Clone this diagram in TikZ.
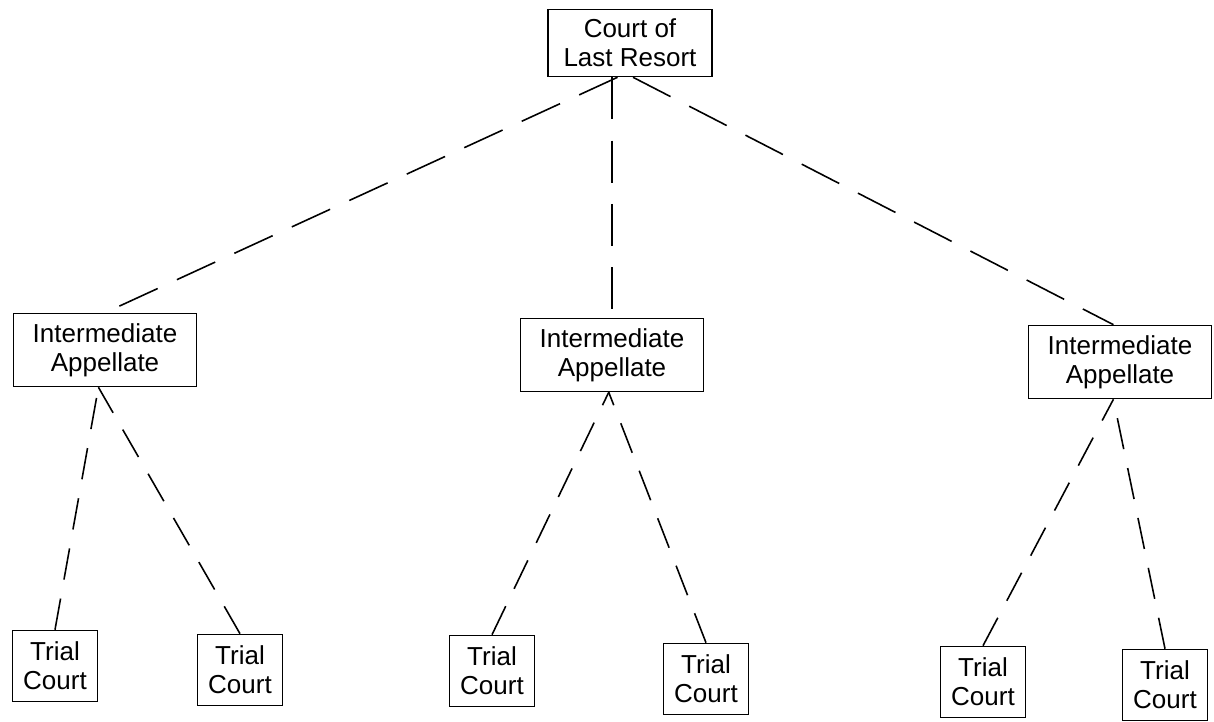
\documentclass[tikz,border=0pt]{standalone}
\usepackage{fontspec}
\setmainfont{Liberation Sans}
\usetikzlibrary{positioning,arrows.meta}

\begin{document}
\begin{tikzpicture}[x=0.02cm,y=-0.02cm,
    font=\fontsize{14.8}{16.5}\selectfont,
    court/.style={draw,line width=0.9pt,align=center,inner sep=1pt},
    toptier/.style={court,minimum width=3.28cm,minimum height=1.34cm},
    midtier/.style={court,minimum width=3.66cm,minimum height=1.46cm},
    trial/.style={court,minimum width=1.7cm,minimum height=1.42cm},
    upper/.style={line width=0.9pt,dash pattern=on 24pt off 12pt},
    lower/.style={line width=0.9pt,dash pattern=on 18pt off 11pt},
]
\useasboundingbox (0,0) rectangle (1214,722);

% --- top court ---
\node[toptier] (clr) at (630,43) {Court of\\Last Resort};

% --- intermediate appellate row ---
\node[midtier] (ia1) at (105,350)  {Intermediate\\Appellate};
\node[midtier] (ia2) at (612,355)  {Intermediate\\Appellate};
\node[midtier] (ia3) at (1120,362) {Intermediate\\Appellate};

% --- trial courts ---
\node[trial] (tc1) at (55,666)   {Trial\\Court};
\node[trial] (tc2) at (240,670)  {Trial\\Court};
\node[trial] (tc3) at (492,671)  {Trial\\Court};
\node[trial] (tc4) at (706,679)  {Trial\\Court};
\node[trial] (tc5) at (983,682)  {Trial\\Court};
\node[trial] (tc6) at (1165,685) {Trial\\Court};

% upper links
\draw[upper] (clr.-110) -- (ia1.north);
\draw[upper] (clr.south -| ia2.north) -- (ia2.north);
\draw[upper] (clr.-85) -- (ia3.100);

% lower links
\draw[lower] (tc1.north) -- (ia1.-100);
\draw[lower] (tc2.north) -- (ia1.-100);
\draw[lower] (tc3.north) -- (ia2.-95);
\draw[lower] (tc4.north) -- (ia2.-95);
\draw[lower] (tc5.north) -- (ia3.-100);
\draw[lower] (tc6.north) -- (ia3.-100);
\end{tikzpicture}
\end{document}
